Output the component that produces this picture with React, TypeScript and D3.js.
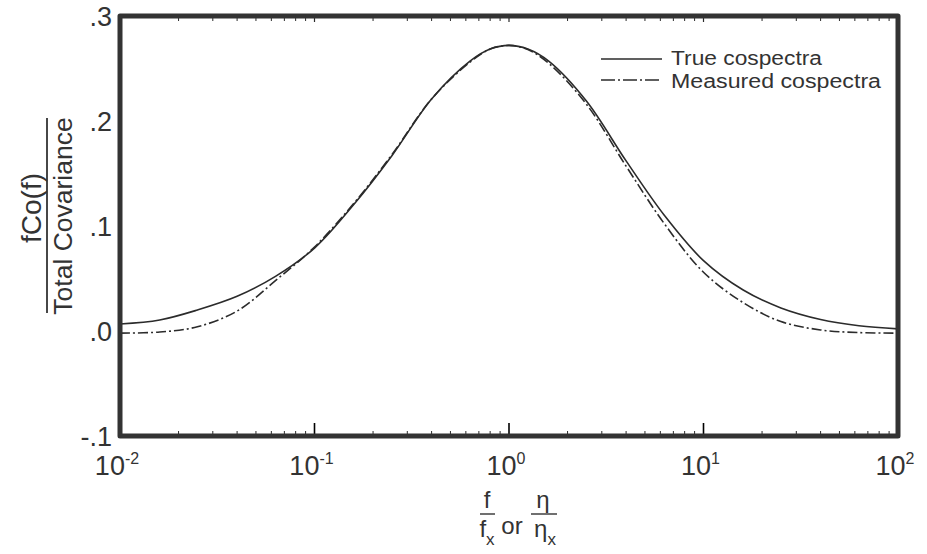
import React from "react";
import * as d3 from "d3";

const freq = [0.01, 0.016, 0.025, 0.04, 0.063, 0.1, 0.16, 0.25, 0.4, 0.63, 0.8, 1, 1.25, 1.6, 2.5, 4, 6.3, 10, 16, 25, 40, 63, 100];
const trueCospectra = [0.0067, 0.0105, 0.02, 0.033, 0.052, 0.079, 0.121, 0.167, 0.221, 0.257, 0.2685, 0.272, 0.2685, 0.257, 0.219, 0.162, 0.11, 0.067, 0.039, 0.022, 0.011, 0.005, 0.002];
const measuredCospectra = [-0.002, -0.001, 0.004, 0.019, 0.048, 0.08, 0.122, 0.168, 0.221, 0.256, 0.2685, 0.272, 0.268, 0.255, 0.216, 0.157, 0.102, 0.056, 0.027, 0.009, 0.001, -0.0015, -0.002];
const yTicks = [-0.1, 0, 0.1, 0.2, 0.3];
const yTickLabels = ["-.1", ".0", ".1", ".2", ".3"];
const xMajor = [0.01, 0.1, 1, 10, 100];
const xExponents = ["-2", "-1", "0", "1", "2"];
const legendLabels = ["True cospectra", "Measured cospectra"];

const W = 927;
const H = 554;
const L = 120, R = 898, T = 16, B = 436;
const FONT = "'Liberation Sans', Arial, Helvetica, sans-serif";
const INK = "#2b2b2b";

export default function App() {
  const x = d3.scaleLog().domain([0.01, 100]).range([L, R]);
  const y = d3.scaleLinear().domain([-0.1, 0.3]).range([B, T]);
  const line = d3
    .line<[number, number]>()
    .x((d) => x(d[0]))
    .y((d) => y(d[1]))
    .curve(d3.curveCatmullRom.alpha(0.5));
  const trueD = line(freq.map((f, i) => [f, trueCospectra[i]]))!;
  const measD = line(freq.map((f, i) => [f, measuredCospectra[i]]))!;

  const minor: number[] = [];
  for (let e = -2; e < 2; e++) {
    for (let k = 2; k <= 9; k++) minor.push(k * Math.pow(10, e));
  }
  const inner = xMajor.slice(1, -1);

  return (
    <svg width={W} height={H} style={{ position: "absolute", left: 0, top: 0, background: "#fff" }} fontFamily={FONT}>
      <rect x={0} y={0} width={W} height={H} fill="#fff" />
      {/* curves */}
      <path d={trueD} fill="none" stroke={INK} strokeWidth={1.6} />
      <path d={measD} fill="none" stroke={INK} strokeWidth={1.6} strokeDasharray="10,3,2,3" />

      {/* ticks */}
      {minor.map((m, i) => (
        <g key={"m" + i}>
          <line x1={x(m)} x2={x(m)} y1={B} y2={B - 5} stroke={INK} strokeWidth={1} />
          <line x1={x(m)} x2={x(m)} y1={T} y2={T + 5} stroke={INK} strokeWidth={1} />
        </g>
      ))}
      {inner.map((m, i) => (
        <g key={"M" + i}>
          <line x1={x(m)} x2={x(m)} y1={B} y2={B - 13} stroke="#000" strokeWidth={1.6} />
          <line x1={x(m)} x2={x(m)} y1={T} y2={T + 6} stroke={INK} strokeWidth={1.2} />
        </g>
      ))}

      {/* frame */}
      <rect x={L} y={T} width={R - L} height={B - T} fill="none" stroke="#333" strokeWidth={5} strokeLinejoin="round" />

      {/* y tick labels */}
      {yTicks.map((v, i) => (
        <text key={"yl" + i} x={112} y={y(v)} dy="0.36em" textAnchor="end" fontSize={27} fill="#333">
          {yTickLabels[i]}
        </text>
      ))}

      {/* x tick labels */}
      {xMajor.map((v, i) => (
        <text key={"xl" + i} x={x(v) - 3} y={475} textAnchor="middle" fontSize={27} fill="#333">
          10
          <tspan fontSize={16} dy={-11}>{xExponents[i]}</tspan>
        </text>
      ))}

      {/* legend */}
      <line x1={601} x2={662} y1={59} y2={59} stroke={INK} strokeWidth={1.3} />
      <line x1={601} x2={662} y1={80} y2={80} stroke={INK} strokeWidth={1.3} strokeDasharray="14,3,2,3" />
      <text x={671} y={65} fontSize={19.5} fill="#333" textLength={151} lengthAdjust="spacingAndGlyphs">{legendLabels[0]}</text>
      <text x={671} y={88} fontSize={19.5} fill="#333" textLength={210} lengthAdjust="spacingAndGlyphs">{legendLabels[1]}</text>

      {/* y axis title */}
      <g>
        <text transform="translate(41,208) rotate(-90)" textAnchor="middle" fontSize={28} fill="#333">fCo(f)</text>
        <line x1={47} x2={47} y1={118} y2={313} stroke="#333" strokeWidth={1.8} />
        <text transform="translate(72,216) rotate(-90)" textAnchor="middle" fontSize={26.5} fill="#333">Total Covariance</text>
      </g>

      {/* x axis title */}
      <g fill="#333">
        <text x={487} y={508} textAnchor="middle" fontSize={24}>f</text>
        <line x1={480} x2={495} y1={514} y2={514} stroke="#333" strokeWidth={1.4} />
        <text x={487} y={537} textAnchor="middle" fontSize={24}>
          f<tspan fontSize={17} dy={8}>x</tspan>
        </text>
        <text x={512} y={534} textAnchor="middle" fontSize={24}>or</text>
        <text x={543} y={508} textAnchor="middle" fontSize={24}>η</text>
        <line x1={531} x2={557} y1={514} y2={514} stroke="#333" strokeWidth={1.4} />
        <text x={545} y={537} textAnchor="middle" fontSize={24}>
          η<tspan fontSize={17} dy={8}>x</tspan>
        </text>
      </g>
    </svg>
  );
}
